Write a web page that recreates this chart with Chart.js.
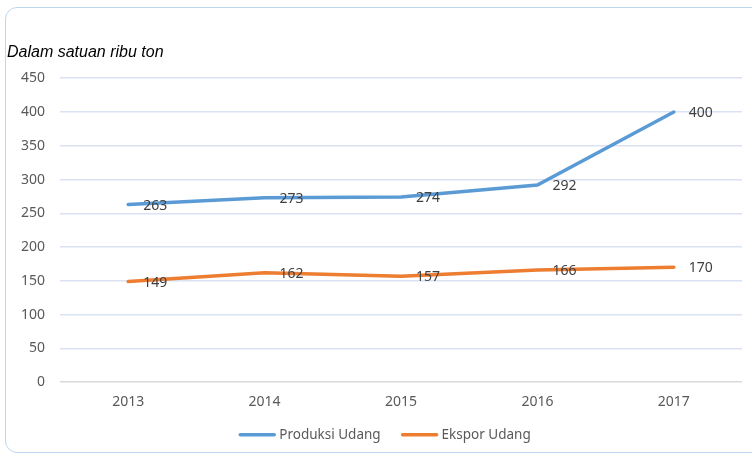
<!DOCTYPE html>
<html>
<head>
<meta charset="utf-8">
<script src="https://cdn.jsdelivr.net/npm/chart.js@4"></script>
<style>
  body { margin: 0; overflow: hidden; background: #fff; }
  #frame { position: absolute; left: 5px; top: 7px; width: 800px; height: 444px;
           border: 1.5px solid #bdd7ee; border-radius: 12px; }
  #wrap { position: absolute; left: 0; top: 0; width: 752px; height: 455px; }
</style>
</head>
<body>
<div id="frame"></div>
<div id="wrap"><canvas id="chart" width="752" height="455"></canvas></div>
<script>
const years = ['2013', '2014', '2015', '2016', '2017'];
const produksi = [263, 273, 274, 292, 400];
const ekspor = [149, 162, 157, 166, 170];
const yTicks = [0, 50, 100, 150, 200, 250, 300, 350, 400, 450];

const FONT = "'Noto Sans', sans-serif";

// labels to the right of each point
const pointLabels = {
  id: 'pointLabels',
  afterDatasetsDraw(chart) {
    const ctx = chart.ctx;
    ctx.save();
    ctx.font = '14px ' + FONT;
    ctx.fillStyle = '#404040';
    ctx.textAlign = 'left';
    ctx.textBaseline = 'middle';
    chart.data.datasets.forEach((ds, i) => {
      chart.getDatasetMeta(i).data.forEach((pt, j) => {
        ctx.fillText(ds.data[j], pt.x + 15, pt.y + 1);
      });
    });
    ctx.restore();
  }
};

// legend under the axis, excel style (line swatch + label)
const lineLegend = {
  id: 'lineLegend',
  afterDraw(chart) {
    const ctx = chart.ctx;
    const swatch = 36, gap = 4, itemGap = 21;
    ctx.save();
    ctx.font = '13.5px ' + FONT;
    const items = chart.data.datasets.map(ds => ({
      text: ds.label, color: ds.borderColor, w: swatch + gap + ctx.measureText(ds.label).width
    }));
    const total = items.reduce((s, it) => s + it.w, 0) + itemGap * (items.length - 1);
    let x = 385 - total / 2;
    const y = chart.chartArea.bottom + 52.5;
    ctx.textBaseline = 'middle';
    ctx.lineWidth = 3.5;
    ctx.lineCap = 'round';
    items.forEach(it => {
      ctx.strokeStyle = it.color;
      ctx.beginPath();
      ctx.moveTo(x + 1, y);
      ctx.lineTo(x + swatch - 1, y);
      ctx.stroke();
      ctx.fillStyle = '#595959';
      ctx.fillText(it.text, x + swatch + gap, y);
      x += it.w + itemGap;
    });
    ctx.restore();
  }
};

const data = {
  labels: years,
  datasets: [{
    label: 'Produksi Udang',
    data: produksi,
    borderColor: '#5b9bd5',
    backgroundColor: '#5b9bd5',
    borderWidth: 3.5,
    pointRadius: 0,
    borderCapStyle: 'round',
    tension: 0
  }, {
    label: 'Ekspor Udang',
    data: ekspor,
    borderColor: '#ed7d31',
    backgroundColor: '#ed7d31',
    borderWidth: 3.5,
    pointRadius: 0,
    borderCapStyle: 'round',
    tension: 0
  }]
};

const config = {
  type: 'line',
  data: data,
  plugins: [pointLabels, lineLegend],
  options: {
    responsive: false,
    animation: false,
    layout: { padding: { left: 7, right: 10, top: 43, bottom: 41 } },
    plugins: {
      title: {
        display: true,
        text: 'Dalam satuan ribu ton',
        align: 'start',
        color: '#000',
        font: { family: "'Liberation Sans', sans-serif", size: 16, style: 'italic', weight: 'normal' },
        padding: { top: 0, bottom: 16 }
      },
      legend: { display: false },
      tooltip: { enabled: false }
    },
    scales: {
      x: {
        offset: true,
        grid: { display: false },
        border: { display: false },
        ticks: { color: '#595959', font: { family: FONT, size: 14 }, padding: 3.5 }
      },
      y: {
        min: 0,
        max: 450,
        afterBuildTicks(scale) { scale.ticks = yTicks.map(v => ({ value: v })); },
        afterFit(scale) { scale.width = 53; },
        border: { display: false },
        grid: {
          drawTicks: false,
          lineWidth: 1.5,
          color: c => c.tick.value === 0 ? '#d9d9d9' : '#dae3f3'
        },
        ticks: { color: '#595959', font: { family: FONT, size: 14 }, padding: 15 }
      }
    }
  }
};

new Chart(document.getElementById('chart'), config);
</script>
</body>
</html>
